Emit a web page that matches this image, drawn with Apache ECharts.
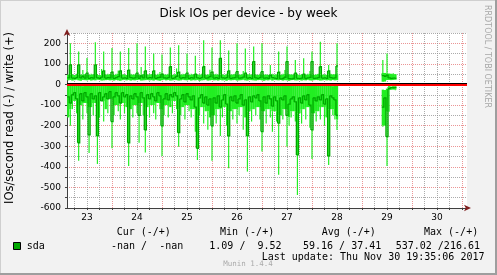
<!DOCTYPE html>
<html><head><meta charset="utf-8">
<script src="https://cdn.jsdelivr.net/npm/echarts@6/dist/echarts.min.js"></script>
<style>html,body{margin:0;padding:0;background:#f2f2f2;overflow:hidden}#c{width:497px;height:275px}</style>
</head><body><div id="c"></div>
<script>
// ---------- text ----------
const titleText = 'Disk IOs per device - by week';
const yAxisName = 'IOs/second read (-) / write (+)';
const watermark = 'RRDTOOL / TOBI OETIKER';
const dayLabels = ['23','24','25','26','27','28','29','30'];
const yTickLabels = [-600,-500,-400,-300,-200,-100,0,100,200];
const legendHeaders = ['Cur (-/+)','Min (-/+)','Avg (-/+)','Max (-/+)'];
const legendName = 'sda';
const legendValues = ['-nan /  -nan','1.09 /  9.52','59.16 / 37.41','537.02 /216.61'];
const lastUpdate = 'Last update: Thu Nov 30 19:35:06 2017';
const muninVersion = 'Munin 1.4.4';

// ---------- data (hours since Nov 23 00:00, 1 h steps) ----------
const block1Start = 3;    // first block: hours 3..132
const block2Start = 154;  // second block: hours 154..160
// write (+) : light band low / high edge, dark average line
const writeLo1 = [20,22,19,21,23,20,18,22,21,20, 22,19,21,20,23,22,19,20,21,22, 20,21,19,22,20,18,21,23,20,22,
  19,21,20,22,23,19,20,21,22,20, 21,19,22,20,18,21,23,20,22,19, 20,22,21,19,20,23,21,20,22,19,
  21,20,22,18,20,21,23,19,20,22, 20,21,19,22,20,21,18,22,20,21, 22,19,20,21,23,20,19,22,21,20,
  19,21,22,20,18,21,20,23,19,22, 21,20,22,19,21,20,18,21,22,20, 20,22,19,21,20,23,20,19,21,22,
  21,19,20,22,20,21,19,22,20,21];
const writeHi1 = [48,200,50,46,52,160,48,70,50,129, 47,52,49,205,50,46,75,160,48,52, 50,177,47,52,68,160,49,50,46,177,
  52,48,50,200,47,85,50,185,48,52, 50,150,47,52,60,145,50,48,52,180, 47,50,78,190,48,52,50,150,46,52,
  49,140,50,48,52,215,47,50,72,180, 49,52,48,215,50,47,52,165,48,50, 52,200,47,50,66,175,49,52,48,184,
  50,47,52,200,48,50,47,95,52,48, 50,160,47,52,70,184,49,50,48,119, 52,47,50,127,48,52,65,160,47,50,
  52,208,48,50,47,95,52,49,50,200];
const writeAvg1 = [32,95,31,30,33,95,32,40,31,55, 30,33,31,95,32,30,36,66,31,33, 32,60,30,33,38,66,31,32,30,70,
  33,31,32,55,30,42,32,66,31,33, 32,66,30,33,35,50,32,31,33,86, 30,32,40,60,31,33,32,55,30,33,
  31,50,32,30,33,86,31,32,38,60, 31,33,30,127,32,31,33,66,30,32, 33,62,31,32,36,55,31,33,30,111,
  32,30,33,62,31,32,30,45,33,31, 28,60,27,29,35,111,28,27,29,55, 30,28,31,50,29,32,34,111,30,31,
  33,86,31,32,30,66,33,31,32,90];
// read (-)
const readLo1 = [-5,-6,-4,-7,-5,-6,-5,-8,-4,-6, -5,-7,-6,-4,-5,-6,-7,-5,-4,-6, -6,-5,-7,-4,-6,-5,-5,-8,-6,-4,
  -5,-6,-7,-5,-4,-6,-5,-7,-6,-5, -4,-6,-5,-7,-5,-6,-4,-5,-6,-7, -5,-4,-6,-5,-7,-6,-5,-4,-6,-5,
  -7,-5,-6,-4,-5,-6,-7,-5,-4,-6, -6,-5,-7,-4,-6,-5,-5,-8,-6,-4, -5,-6,-7,-5,-4,-6,-5,-7,-6,-5,
  -4,-6,-5,-7,-5,-6,-4,-5,-6,-7, -5,-4,-6,-5,-7,-6,-5,-4,-6,-5, -7,-5,-6,-4,-5,-6,-7,-5,-4,-6,
  -6,-5,-7,-4,-6,-5,-5,-8,-6,-4];
const readHi1 = [-160,-200,-120,-80,-140,-370,-100,-170,-90,-140, -333,-110,-150,-90,-386,-160,-80,-180,-120,-140,
  -70,-310,-150,-100,-130,-170,-90,-140,-110,-396, -120,-160,-100,-140,-283,-90,-150,-331,-110,-160,
  -100,-140,-170,-90,-120,-347,-150,-100,-160,-110, -140,-80,-120,-302,-150,-110,-170,-100,-130,-160,
  -120,-230,-367,-150,-110,-190,-130,-220,-160,-371, -150,-190,-120,-250,-160,-110,-200,-407,-130,-170,
  -120,-190,-150,-110,-220,-160,-423,-130,-180,-120, -150,-110,-170,-326,-130,-190,-120,-160,-230,-130,
  -180,-439,-150,-170,-120,-302,-200,-160,-130,-180, -537,-140,-190,-120,-170,-110,-210,-362,-140,-180,
  -130,-170,-110,-200,-160,-391,-120,-150,-170,-221];
const readAvg1 = [-60,-90,-50,-40,-70,-283,-45,-80,-40,-60, -245,-45,-70,-55,-250,-40,-80,-60,-45,-70,
  -35,-180,-60,-40,-55,-90,-40,-60,-50,-283, -55,-70,-45,-60,-150,-40,-65,-221,-50,-70,
  -45,-60,-80,-40,-55,-201,-70,-45,-75,-50, -60,-40,-55,-234,-70,-50,-85,-45,-60,-75,
  -55,-110,-310,-65,-50,-90,-60,-100,-70,-201, -65,-90,-55,-110,-75,-50,-95,-250,-60,-80,
  -55,-90,-70,-50,-100,-75,-250,-60,-85,-55, -65,-50,-80,-229,-60,-90,-55,-70,-105,-60,
  -80,-188,-65,-75,-55,-150,-95,-70,-60,-85, -342,-65,-90,-55,-75,-50,-100,-221,-65,-80,
  -60,-75,-50,-95,-70,-347,-55,-65,-75,-150];
const writeLo2  = [13,14,22,22,21,22,23];
const writeHi2  = [119,56,150,54,52,55,50];
const writeAvg2 = [43,40,45,32,30,31,30];
const readLo2   = [-25,-27,-20,-8,-10,-8,-9];
const readHi2   = [-205,-200,-396,-132,-27,-25,-28];
const readAvg2  = [-110,-65,-253,-20,-15,-16,-14];

// ---------- styling ----------
const LIGHT = '#22ee22', DARK = '#00a800';
const GRID_C = 'rgba(143,143,143,0.75)', MGRID_C = 'rgba(222,79,79,0.6)';
const tMin = 2.4, tMax = 194.4, yMin = -600, yMax = 250;

// band items: [hour, low, high, previous high, next high]
function bandItems(start, lo, hi) {
  return lo.map((v, i) => [start + i, v, hi[i], i > 0 ? hi[i - 1] : hi[i], i + 1 < hi.length ? hi[i + 1] : hi[i]]);
}
// step items: [hour, value, nextValue]
function stepItems(start, arr) { return arr.map((v, i) => [start + i, v, i + 1 < arr.length ? arr[i + 1] : NaN]); }

const minorX = [], majorX = [], labelX = [];
for (let h = 6; h < tMax; h += 6) (h % 24 ? minorX : majorX).push(h);
for (let h = 12; h < tMax; h += 24) labelX.push(h);
const minorY = [], majorY = [], allY = [];
for (let v = -550; v <= yMax; v += 100) minorY.push(v);
for (let v = -500; v <= 200; v += 100) majorY.push(v);
for (let v = yMin; v <= yMax; v += 50) allY.push(v);

const dash = { type: [1, 1] };
function xAx(extra) { return Object.assign({ type: 'value', min: tMin, max: tMax, position: 'bottom',
  axisLine: { show: false }, axisTick: { show: false }, axisLabel: { show: false }, splitLine: { show: false } }, extra); }
function yAx(extra) { return Object.assign({ type: 'value', min: yMin, max: yMax, position: 'left',
  axisLine: { show: false }, axisTick: { show: false }, axisLabel: { show: false }, splitLine: { show: false } }, extra); }

// light band: solid over the part shared with neighbours, thin stroke for the excess (spikes)
function makeBandRenderer(solidFrac, thinW) {
  return function (params, api) {
    const h = api.value(0), lo = api.value(1), hi = api.value(2), ph = api.value(3), nh = api.value(4);
    let solid = hi;
    [ph, nh].forEach(v => { if (Math.abs(v) < Math.abs(solid)) solid = v; });
    const a = api.coord([h - 0.5, solid]), b = api.coord([h + 0.5, lo]), c = api.coord([h, hi]);
    const w = (b[0] - a[0]) * solidFrac + 0.4;
    const cx = (a[0] + b[0]) / 2;
    const children = [
      { type: 'rect', shape: { x: cx - w / 2, y: Math.min(a[1], b[1]), width: w, height: Math.abs(b[1] - a[1]) }, style: { fill: LIGHT } },
      { type: 'rect', shape: { x: cx - thinW / 2, y: Math.min(a[1], c[1]), width: thinW, height: Math.abs(c[1] - a[1]) }, style: { fill: LIGHT } }
    ];
    return { type: 'group', children: children, silent: true };
  };
}
function renderStep(params, api) {
  const h = api.value(0), v = api.value(1), n = api.value(2);
  const pts = [api.coord([h - 0.5, v]), api.coord([h + 0.5, v])];
  if (!isNaN(n)) pts.push(api.coord([h + 0.5, n]));
  return { type: 'polyline', shape: { points: pts }, style: { stroke: DARK, lineWidth: 1.3, fill: null }, silent: true };
}
const customBase = { type: 'custom', xAxisIndex: 0, yAxisIndex: 0, silent: true, animation: false, clip: true };

const mono = '10px "DejaVu Sans Mono"';
const graphics = [
  { type: 'rect', shape: { x: 0, y: 0, width: 497, height: 1 }, style: { fill: '#cfcfcf' }, silent: true },
  { type: 'rect', shape: { x: 0, y: 0, width: 1, height: 275 }, style: { fill: '#cfcfcf' }, silent: true },
  { type: 'rect', shape: { x: 0, y: 273, width: 497, height: 2 }, style: { fill: '#9e9e9e' }, silent: true },
  { type: 'rect', shape: { x: 495, y: 0, width: 2, height: 275 }, style: { fill: '#9e9e9e' }, silent: true },
  { type: 'text', x: 248.5, y: 14, style: { text: titleText, font: '12px "DejaVu Sans"', fill: '#000', align: 'center', verticalAlign: 'middle', textAlign: 'center', textVerticalAlign: 'middle' } },
  { type: 'text', x: 10, y: 118, rotation: Math.PI / 2, style: { text: yAxisName, font: '11.5px "DejaVu Sans"', fill: '#000', align: 'center', verticalAlign: 'middle', textAlign: 'center', textVerticalAlign: 'middle' } },
  { type: 'text', x: 487.5, y: 56.5, rotation: -Math.PI / 2, style: { text: watermark, font: '8px "DejaVu Sans"', fill: '#a8a8a8', align: 'center', verticalAlign: 'middle', textAlign: 'center', textVerticalAlign: 'middle' } },
  { type: 'rect', shape: { x: 13.5, y: 242.5, width: 7, height: 7 }, style: { fill: DARK, stroke: '#000', lineWidth: 1 } },
  { type: 'text', x: 26.7, y: 246, style: { text: legendName, font: mono, fill: '#000', verticalAlign: 'middle', textVerticalAlign: 'middle' } },
  { type: 'text', x: 261.7, y: 257.5, style: { text: lastUpdate, font: mono, fill: '#000', verticalAlign: 'middle', textVerticalAlign: 'middle' } },
  { type: 'text', x: 248, y: 264.5, style: { text: muninVersion, font: '7.5px "DejaVu Sans Mono"', fill: '#ababab', align: 'center', verticalAlign: 'middle', textAlign: 'center', textVerticalAlign: 'middle' } }
];
const headerX = [116.7, 220, 321.7, 424];
const valueX = [111, 209.3, 303, 395.7];
legendHeaders.forEach((t, i) => graphics.push({ type: 'text', x: headerX[i], y: 232.7,
  style: { text: t, font: mono, fill: '#000', verticalAlign: 'middle', textVerticalAlign: 'middle' } }));
legendValues.forEach((t, i) => graphics.push({ type: 'text', x: valueX[i], y: 246,
  style: { text: t, font: mono, fill: '#000', verticalAlign: 'middle', textVerticalAlign: 'middle' } }));

const option = {
  animation: false,
  backgroundColor: '#f2f2f2',
  grid: { left: 67, top: 33, width: 400, height: 175, show: true, backgroundColor: '#ffffff', borderWidth: 0 },
  xAxis: [
    xAx({ axisTick: { show: false, customValues: minorX }, splitLine: { show: true, lineStyle: Object.assign({ color: GRID_C, width: 1 }, dash) } }),
    xAx({ axisTick: { show: false, customValues: majorX }, splitLine: { show: true, lineStyle: Object.assign({ color: MGRID_C, width: 1 }, dash) } }),
    xAx({ axisLine: { show: true, onZero: false, lineStyle: { color: '#801f1f', width: 1 }, symbol: ['none', 'arrow'], symbolSize: [5, 7], symbolOffset: [0, 4] } }),
    xAx({ axisLine: { show: true, onZero: false, lineStyle: { color: '#404040', width: 1 } },
      axisTick: { show: true, customValues: minorX.concat(majorX), length: 2, inside: false, lineStyle: { color: '#404040' } },
      axisLabel: { show: true, customValues: labelX, margin: 5, color: '#000', fontFamily: 'DejaVu Sans', fontSize: 9,
        formatter: v => dayLabels[Math.round((v - 12) / 24)] } })
  ],
  yAxis: [
    yAx({ axisTick: { show: false, customValues: minorY }, splitLine: { show: true, lineStyle: Object.assign({ color: GRID_C, width: 1 }, dash) } }),
    yAx({ axisTick: { show: false, customValues: majorY }, splitLine: { show: true, lineStyle: Object.assign({ color: MGRID_C, width: 1 }, dash) } }),
    yAx({ axisLine: { show: true, onZero: false, lineStyle: { color: '#801f1f', width: 1 }, symbol: ['none', 'arrow'], symbolSize: [5, 7], symbolOffset: [0, 4] } }),
    yAx({ axisLine: { show: true, onZero: false, lineStyle: { color: '#404040', width: 1 } },
      axisTick: { show: true, customValues: allY, length: 2, lineStyle: { color: '#404040' } },
      axisLabel: { show: true, customValues: yTickLabels, margin: 6, color: '#000', fontFamily: 'DejaVu Sans', fontSize: 9 } })
  ],
  series: [
    Object.assign({}, customBase, { name: 'writeBand', z: 2, renderItem: makeBandRenderer(1, 1.2), encode: { x: 0, y: [1, 2] },
      data: bandItems(block1Start, writeLo1, writeHi1).concat(bandItems(block2Start, writeLo2, writeHi2)) }),
    Object.assign({}, customBase, { name: 'readBand', z: 2, renderItem: makeBandRenderer(0.9, 1.2), encode: { x: 0, y: [1, 2] },
      data: bandItems(block1Start, readLo1, readHi1).concat(bandItems(block2Start, readLo2, readHi2)) }),
    Object.assign({}, customBase, { name: 'writeAvg', z: 3, renderItem: renderStep, encode: { x: 0, y: 1 },
      data: stepItems(block1Start, writeAvg1).concat(stepItems(block2Start, writeAvg2)) }),
    Object.assign({}, customBase, { name: 'readAvg', z: 3, renderItem: renderStep, encode: { x: 0, y: 1 },
      data: stepItems(block1Start, readAvg1).concat(stepItems(block2Start, readAvg2)) }),
    { type: 'line', name: 'zero', data: [], z: 5, silent: true, xAxisIndex: 0, yAxisIndex: 0, symbol: 'none',
      markLine: { silent: true, symbol: ['none', 'none'], animation: false, label: { show: false },
        data: [ { yAxis: 7, lineStyle: { color: '#000', width: 1, type: 'solid' } },
                { yAxis: -1.5, lineStyle: { color: '#ff0000', width: 2, type: 'solid' } } ] } }
  ],
  graphic: { elements: graphics }
};
const chart = echarts.init(document.getElementById('c'), null, { renderer: 'canvas', width: 497, height: 275, devicePixelRatio: 1 });
chart.setOption(option);
</script></body></html>
